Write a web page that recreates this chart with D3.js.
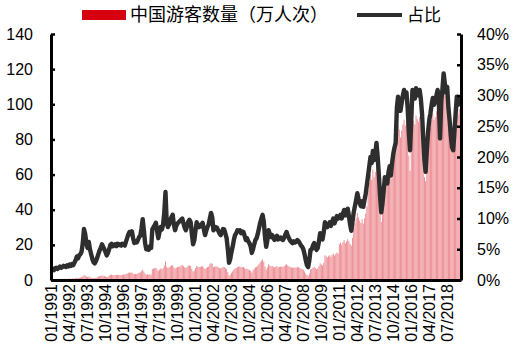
<!DOCTYPE html>
<html lang="zh">
<head>
<meta charset="UTF-8">
<title>中国游客数量及占比</title>
<style>
  body { margin: 0; background: #fff; }
  svg text { font-family: Arial, "Liberation Sans", sans-serif; font-size: 16px; fill: #000; }
  .legend text { font-family: "Noto Sans CJK SC", sans-serif; font-size: 18px; }
  .axis .domain { stroke: #000; stroke-width: 3; }
  .axis .tick line { stroke: #000; stroke-width: 2.5; }
</style>
</head>
<body>
<svg width="520" height="351"></svg>
<script src="https://cdn.jsdelivr.net/npm/d3@7/dist/d3.min.js"></script>
<script>
// monthly, 01/1991 - 06/2019
// 中国游客数量（万人次）, one row per year
var tourists = [
  0.4,0.5,0.5,0.6,0.6,0.5,0.6,0.7,0.6,0.6,0.7,0.7,
  0.6,0.7,0.7,0.8,0.7,0.8,0.8,0.9,1.0,1.2,1.1,1.3,
  1.4,1.5,2.0,2.8,2.5,2.0,1.7,2.0,1.6,1.4,1.1,1.0,
  1.2,1.4,1.6,1.9,2.2,2.3,2.6,2.4,2.3,2.0,1.8,2.0,
  2.5,2.9,3.0,2.8,2.8,2.9,2.8,3.0,2.9,2.9,2.8,3.0,
  3.2,3.1,3.4,3.7,4.1,4.3,4.1,4.3,3.7,3.3,3.5,3.4,
  3.9,4.2,4.3,5.0,5.9,4.8,3.6,3.0,3.2,2.9,3.3,3.1,
  6.2,6.5,6.7,7.0,6.0,5.1,5.9,6.5,6.2,6.8,8.3,10.7,
  7.6,6.9,7.2,7.8,8.2,8.5,7.2,6.5,7.0,7.4,7.5,7.7,
  8.3,8.5,7.8,7.2,6.9,7.5,8.1,8.3,8.0,6.4,4.9,5.4,
  6.8,8.0,7.7,7.3,7.5,7.7,7.9,7.0,6.2,6.8,7.3,7.7,
  9.0,9.8,9.2,7.3,7.6,7.7,7.7,7.2,6.8,6.6,7.0,7.5,
  7.4,6.8,6.1,4.5,2.5,3.1,4.1,4.9,5.9,6.6,6.8,7.3,
  7.6,7.7,7.2,7.5,7.4,6.8,6.2,6.5,6.0,5.7,5.2,4.2,
  5.5,6.4,7.2,7.5,8.3,9.2,10.2,11.0,11.7,10.5,7.7,5.9,
  7.2,8.9,8.3,7.7,8.0,7.5,7.2,7.6,7.9,7.3,7.5,7.6,
  7.6,7.5,7.9,8.5,9.0,8.3,7.8,7.4,7.1,6.9,7.2,7.0,
  7.1,7.5,7.2,6.9,6.4,6.2,5.8,4.8,3.7,2.8,2.4,3.7,
  6.1,6.3,7.0,7.5,6.8,6.1,6.5,7.9,9.5,8.8,8.3,9.8,
  14.1,13.4,12.9,13.5,14.1,13.2,14.3,15.0,13.8,14.7,15.6,15.0,
  20.4,21.2,20.0,21.6,22.8,21.0,22.0,23.2,22.0,20.5,19.5,24.0,
  29.7,32.4,35.1,38.1,35.6,33.8,32.4,34.6,32.1,35.1,37.8,41.9,
  51.0,55.5,60.0,57.0,63.0,58.5,61.5,66.9,60.0,51.0,40.5,33.0,
  42.5,49.3,56.8,53.7,53.4,59.5,62.9,57.8,64.6,69.7,73.1,75.8,
  82.6,87.9,85.6,81.1,85.0,88.5,91.2,87.9,90.0,82.6,70.8,62.2,
  78.0,92.7,90.6,88.5,93.6,91.5,90.0,92.7,88.5,81.0,69.0,58.5,
  56.3,67.2,76.8,83.2,86.7,91.2,94.7,91.2,92.8,96.0,98.9,92.8,
  79.4,100.1,107.0,117.5,110.4,105.2,108.3,96.6,89.7,81.1,74.5,72.8,
  79.2,89.1,98.3,94.1,97.4,95.0
];

// 占比 (%)
var share = [
  1.5,1.8,1.6,1.9,2.0,1.8,2.0,2.2,2.0,2.1,2.3,2.2,
  2.1,2.4,2.2,2.5,2.3,2.6,2.4,2.8,3.2,3.8,3.5,4.0,
  4.2,4.6,6.0,8.3,7.5,6.0,5.2,6.2,5.0,4.2,3.4,2.9,
  2.7,3.1,3.6,4.2,4.8,5.2,5.8,5.4,5.0,4.5,4.0,4.4,
  5.0,5.7,5.9,5.5,5.6,5.8,5.5,5.9,5.7,5.8,5.6,5.9,
  5.8,5.6,6.2,6.8,7.4,7.8,7.5,7.9,6.8,6.0,6.3,6.1,
  6.5,7.0,7.2,8.4,9.9,8.0,6.0,5.0,5.3,4.9,5.5,5.2,
  8.2,8.6,8.9,9.3,8.0,6.8,7.8,8.6,8.2,9.0,11.0,14.3,
  9.5,8.6,9.0,9.8,10.2,10.6,9.0,8.1,8.8,9.2,9.4,9.6,
  9.8,10.0,9.2,8.5,8.1,8.8,9.5,9.8,9.4,7.5,5.8,6.4,
  8.0,9.4,9.0,8.6,8.8,9.0,9.3,8.2,7.3,8.0,8.6,9.0,
  10.0,10.9,10.2,8.1,8.4,8.6,8.5,8.0,7.6,7.3,7.8,8.3,
  8.2,7.5,6.8,5.0,2.8,3.4,4.5,5.4,6.5,7.3,7.6,8.1,
  8.0,8.1,7.6,7.9,7.8,7.2,6.5,6.8,6.3,6.0,5.5,4.4,
  5.0,5.8,6.5,6.8,7.5,8.4,9.3,10.0,10.6,9.5,7.0,5.4,
  6.5,8.1,7.5,7.0,7.3,6.8,6.5,6.9,7.2,6.6,6.8,6.9,
  6.6,6.5,6.9,7.4,7.8,7.2,6.8,6.4,6.2,6.0,6.3,6.1,
  6.2,6.5,6.3,6.0,5.6,5.4,5.0,4.2,3.2,2.4,2.1,3.2,
  4.9,5.0,5.6,6.0,5.4,4.9,5.2,6.3,7.6,7.0,6.6,7.8,
  9.4,8.9,8.6,9.0,9.4,8.8,9.5,10.0,9.2,9.8,10.4,10.0,
  10.2,10.6,10.0,10.8,11.4,10.5,11.0,11.6,10.4,9.0,8.0,9.5,
  11.0,12.0,13.0,14.1,13.2,12.5,12.0,12.8,11.9,13.0,14.0,15.5,
  17.0,18.5,20.0,19.0,21.0,19.5,20.5,22.3,20.0,17.0,13.5,11.0,
  12.5,14.5,16.7,15.8,15.7,17.5,18.5,17.0,19.0,20.5,21.5,22.3,
  28.0,29.8,29.0,27.5,28.8,30.0,30.9,29.8,30.5,28.0,24.0,21.1,
  26.0,30.9,30.2,29.5,31.2,30.5,30.0,30.9,29.5,27.0,23.0,19.5,
  17.6,21.0,24.0,26.0,27.1,28.5,29.6,28.5,29.0,30.0,30.9,29.0,
  23.0,29.0,31.0,33.6,32.0,30.5,31.4,28.0,26.0,23.5,21.6,21.1,
  24.0,27.0,29.8,28.5,29.5,28.8
];

// x labels, one every 15 months
var tickLabels = ["01/1991","04/1992","07/1993","10/1994","01/1996","04/1997","07/1998",
  "10/1999","01/2001","04/2002","07/2003","10/2004","01/2006","04/2007","07/2008",
  "10/2009","01/2011","04/2012","07/2013","10/2014","01/2016","04/2017","07/2018"];

var leftTicks = [0, 20, 40, 60, 80, 100, 120, 140];
var rightTicks = [0, 5, 10, 15, 20, 25, 30, 35, 40];

var svg = d3.select("svg"),
    margin = {top: 34, right: 59, bottom: 71, left: 51},
    width = +svg.attr("width") - margin.left - margin.right,
    height = +svg.attr("height") - margin.top - margin.bottom,
    g = svg.append("g").attr("transform", "translate(" + margin.left + "," + margin.top + ")");

var x = d3.scaleBand()
    .domain(d3.range(tourists.length))
    .range([0, width]);

var y = d3.scaleLinear().domain([0, 140]).range([height, 0]);
var y2 = d3.scaleLinear().domain([0, 40]).range([height, 0]);

// bars
g.append("g").selectAll("rect")
    .data(tourists)
    .enter().append("rect")
    .attr("x", function(d, i) { return x(i) + x.bandwidth() * 0.15; })
    .attr("width", x.bandwidth() * 0.7)
    .attr("y", function(d) { return y(d); })
    .attr("height", function(d) { return height - y(d); })
    .attr("fill", "#d7000f")
    .attr("fill-opacity", 0.5);

// share line
var line = d3.line()
    .x(function(d, i) { return x(i) + x.bandwidth() / 2; })
    .y(function(d) { return y2(d); });

g.append("path")
    .datum(share)
    .attr("d", line)
    .attr("fill", "none")
    .attr("stroke", "#2e2e2e")
    .attr("stroke-width", 4.4)
    .attr("stroke-linejoin", "round");

// axes
g.append("g")
    .attr("class", "axis axis--x")
    .attr("transform", "translate(0," + height + ")")
    .call(d3.axisBottom(x)
        .tickValues(d3.range(0, tourists.length, 15).slice(0, tickLabels.length))
        .tickFormat(function(d, i) { return tickLabels[i]; })
        .tickSize(0))
    .selectAll("text")
        .attr("transform", "rotate(-90)")
        .attr("x", -4)
        .attr("y", 0)
        .attr("dy", "0.35em")
        .style("text-anchor", "end");

g.append("g")
    .attr("class", "axis axis--y")
    .call(d3.axisLeft(y).tickValues(leftTicks).tickSizeInner(-4).tickSizeOuter(0).tickPadding(18));

g.append("g")
    .attr("class", "axis axis--y2")
    .attr("transform", "translate(" + width + ",0)")
    .call(d3.axisRight(y2).tickValues(rightTicks).tickSizeInner(-4).tickSizeOuter(0).tickPadding(16)
        .tickFormat(function(d) { return d + "%"; }));

g.selectAll(".axis text").style("font-size", "16px").style("font-family", "Arial, 'Liberation Sans', sans-serif");

// legend
var legend = svg.append("g").attr("class", "legend");
legend.append("rect")
    .attr("x", 82).attr("y", 10).attr("width", 44).attr("height", 10)
    .attr("fill", "#d7000f");
legend.append("text")
    .attr("x", 130).attr("y", 15).attr("dy", "0.35em")
    .text("中国游客数量（万人次）");
legend.append("line")
    .attr("x1", 357).attr("x2", 402).attr("y1", 15).attr("y2", 15)
    .attr("stroke", "#2e2e2e").attr("stroke-width", 4);
legend.append("text")
    .attr("x", 407).attr("y", 15).attr("dy", "0.35em")
    .style("font-size", "17px")
    .text("占比");
</script>
</body>
</html>
